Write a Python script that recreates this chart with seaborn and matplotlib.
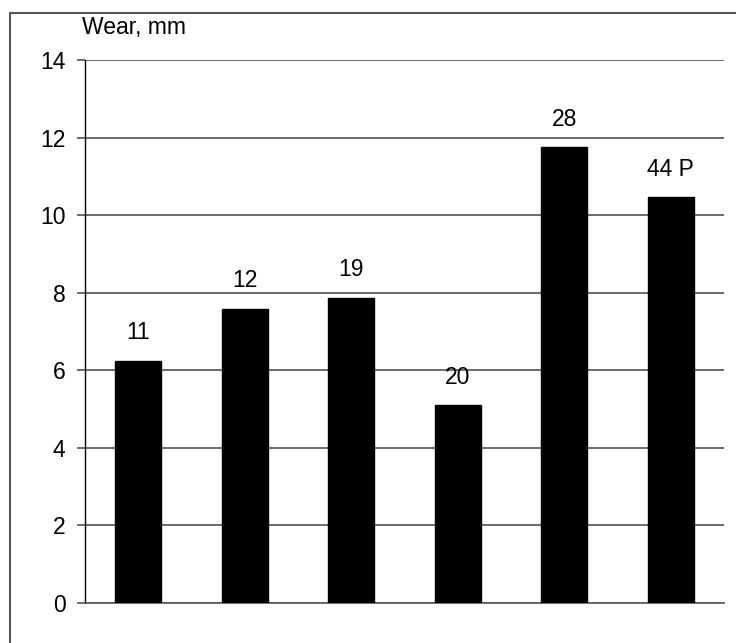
import matplotlib
matplotlib.use('Agg')
import matplotlib.pyplot as plt
import matplotlib.patches as mpatches
import pandas as pd
import seaborn as sns

# Data
labels = ['11', '12', '19', '20', '28', '44 P']
wear = [6.24, 7.58, 7.86, 5.10, 11.75, 10.46]
yticks = [0, 2, 4, 6, 8, 10, 12, 14]

sns.set_style('white')
plt.rcParams['font.family'] = ['Liberation Sans', 'DejaVu Sans']
plt.rcParams['text.color'] = 'black'
plt.rcParams['ytick.labelcolor'] = 'black'

df = pd.DataFrame({'sample': labels, 'wear': wear})

fig = plt.figure(figsize=(7.36, 6.43), dpi=100)
ax = fig.add_axes([85/736, 1 - 603/643, 639/736, 543/643])

sns.barplot(data=df, x='sample', y='wear', color='black', width=0.43,
            saturation=1, edgecolor='black', ax=ax, zorder=3)

# labels above bars
for i, (lab, v) in enumerate(zip(labels, wear)):
    ax.annotate(lab, (i, v), xytext=(0, 12), textcoords='offset points',
                ha='center', va='bottom', fontsize=16.5, color='black')

ax.set_ylim(0, 14)
ax.set_xlim(-0.5, len(labels) - 0.5)
ax.set_yticks(yticks)
ax.set_yticklabels([str(t) for t in yticks], fontsize=16.5)
ax.set_xticks([])
ax.set_xlabel('')
ax.set_ylabel('')
ax.yaxis.grid(True, color='#606060', linewidth=1.3, zorder=0)
ax.tick_params(axis='y', length=6, width=1.3, color='#606060', pad=8, left=True)

for s in ['top', 'right']:
    ax.spines[s].set_visible(False)
ax.spines['left'].set_color('black')
ax.spines['left'].set_linewidth(1.0)
ax.spines['bottom'].set_color('#606060')
ax.spines['bottom'].set_linewidth(1.3)

ax.text(-0.005, 1.06, 'Wear, mm', transform=ax.transAxes, fontsize=16.5,
        ha='left', va='center')

# outer frame (only left and top edges visible)
frame = mpatches.Rectangle((10/736, -0.1), 1.0, 1.1 - 13/643, transform=fig.transFigure,
                           fill=False, edgecolor='#555555', linewidth=1.5)
fig.patches.append(frame)

fig.savefig('out.png', dpi=100)
